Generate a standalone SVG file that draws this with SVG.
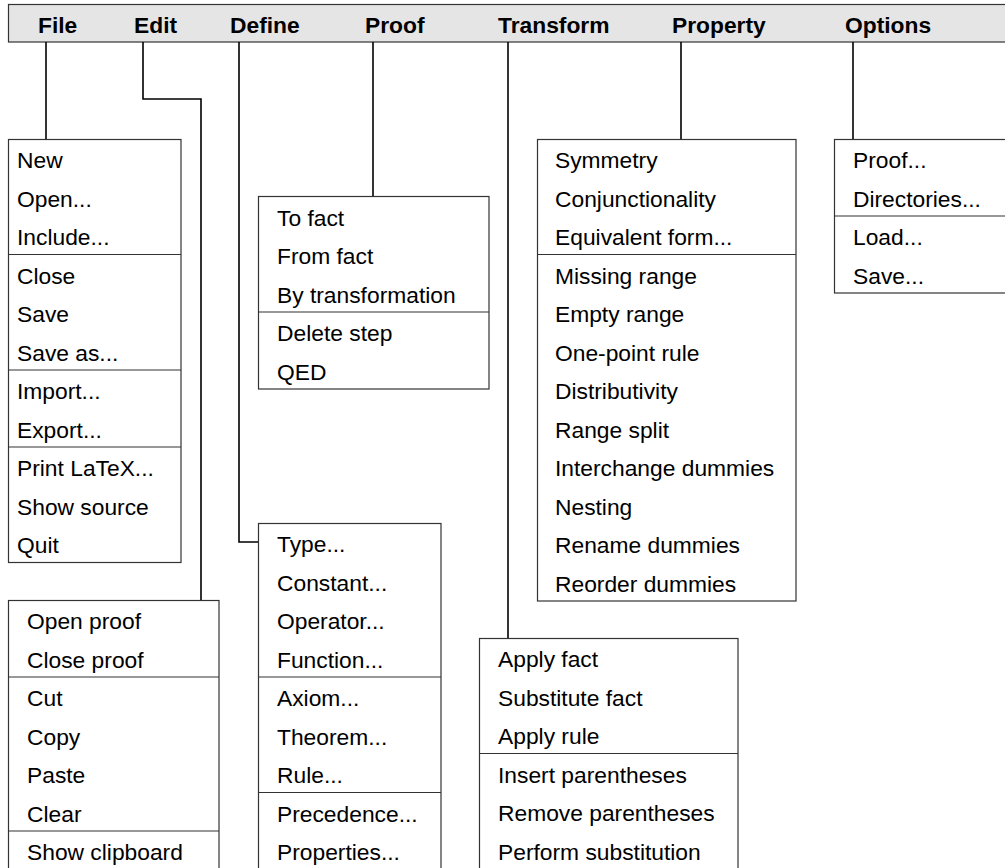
<svg xmlns="http://www.w3.org/2000/svg" width="1005" height="868" viewBox="0 0 1005 868">
<style>
.bg{fill:#ffffff}
.bar{fill:#e5e5e5;stroke:#333333;stroke-width:1.2}
.menu{font-family:"Liberation Sans",Arial,sans-serif;font-size:22.8px;font-weight:bold;fill:#000}
.box{fill:#ffffff;stroke:#333333;stroke-width:1.2}
.sep{stroke:#333333;stroke-width:1.2}
.item{font-family:"Liberation Sans",Arial,sans-serif;font-size:22.8px;fill:#000}
.conn{fill:none;stroke:#000000;stroke-width:1.6}
</style>
<rect class="bg" x="0" y="0" width="1005" height="868"/>
<g id="menubar">
<rect class="bar" x="8.5" y="4.5" width="1010" height="37.5"/>
<text class="menu" x="38" y="33">File</text>
<text class="menu" x="134" y="33">Edit</text>
<text class="menu" x="230" y="33">Define</text>
<text class="menu" x="365" y="33">Proof</text>
<text class="menu" x="498" y="33">Transform</text>
<text class="menu" x="672" y="33">Property</text>
<text class="menu" x="845" y="33">Options</text>
</g>
<g id="connectors">
<polyline class="conn" points="46,42 46,139"/>
<polyline class="conn" points="143,42 143,99 201,99 201,600"/>
<polyline class="conn" points="239,42 239,542 258,542"/>
<polyline class="conn" points="373,42 373,196.5"/>
<polyline class="conn" points="508,42 508,638"/>
<polyline class="conn" points="681,42 681,139"/>
<polyline class="conn" points="853,42 853,139"/>
</g>
<g id="file-menu">
<rect class="box" x="8.5" y="139.5" width="172.5" height="423"/>
<line class="sep" x1="8.5" y1="254.5" x2="181" y2="254.5"/>
<line class="sep" x1="8.5" y1="370" x2="181" y2="370"/>
<line class="sep" x1="8.5" y1="447" x2="181" y2="447"/>
<text class="item" x="17" y="168">New</text>
<text class="item" x="17" y="206.5">Open...</text>
<text class="item" x="17" y="245">Include...</text>
<text class="item" x="17" y="283.5">Close</text>
<text class="item" x="17" y="322">Save</text>
<text class="item" x="17" y="360.5">Save as...</text>
<text class="item" x="17" y="399">Import...</text>
<text class="item" x="17" y="437.5">Export...</text>
<text class="item" x="17" y="476">Print LaTeX...</text>
<text class="item" x="17" y="514.5">Show source</text>
<text class="item" x="17" y="553">Quit</text>
</g>
<g id="edit-menu">
<rect class="box" x="8.5" y="600.5" width="210.5" height="270"/>
<line class="sep" x1="8.5" y1="677" x2="219" y2="677"/>
<line class="sep" x1="8.5" y1="831" x2="219" y2="831"/>
<text class="item" x="27" y="629">Open proof</text>
<text class="item" x="27" y="667.5">Close proof</text>
<text class="item" x="27" y="706">Cut</text>
<text class="item" x="27" y="744.5">Copy</text>
<text class="item" x="27" y="783">Paste</text>
<text class="item" x="27" y="821.5">Clear</text>
<text class="item" x="27" y="860">Show clipboard</text>
</g>
<g id="define-menu">
<rect class="box" x="258.5" y="523.5" width="182.5" height="350"/>
<line class="sep" x1="258.5" y1="677" x2="441" y2="677"/>
<line class="sep" x1="258.5" y1="792.5" x2="441" y2="792.5"/>
<text class="item" x="277" y="552">Type...</text>
<text class="item" x="277" y="590.5">Constant...</text>
<text class="item" x="277" y="629">Operator...</text>
<text class="item" x="277" y="667.5">Function...</text>
<text class="item" x="277" y="706">Axiom...</text>
<text class="item" x="277" y="744.5">Theorem...</text>
<text class="item" x="277" y="783">Rule...</text>
<text class="item" x="277" y="821.5">Precedence...</text>
<text class="item" x="277" y="860">Properties...</text>
</g>
<g id="proof-menu">
<rect class="box" x="258.5" y="196.5" width="230.5" height="192.5"/>
<line class="sep" x1="258.5" y1="312" x2="489" y2="312"/>
<text class="item" x="277" y="225.5">To fact</text>
<text class="item" x="277" y="264">From fact</text>
<text class="item" x="277" y="302.5">By transformation</text>
<text class="item" x="277" y="341">Delete step</text>
<text class="item" x="277" y="379.5">QED</text>
</g>
<g id="transform-menu">
<rect class="box" x="479.5" y="638.5" width="258.5" height="240"/>
<line class="sep" x1="479.5" y1="753.5" x2="738" y2="753.5"/>
<text class="item" x="498" y="667">Apply fact</text>
<text class="item" x="498" y="705.5">Substitute fact</text>
<text class="item" x="498" y="744">Apply rule</text>
<text class="item" x="498" y="782.5">Insert parentheses</text>
<text class="item" x="498" y="821">Remove parentheses</text>
<text class="item" x="498" y="859.5">Perform substitution</text>
</g>
<g id="property-menu">
<rect class="box" x="537.5" y="139.5" width="258.5" height="461.5"/>
<line class="sep" x1="537.5" y1="254.5" x2="796" y2="254.5"/>
<text class="item" x="555" y="168">Symmetry</text>
<text class="item" x="555" y="206.5">Conjunctionality</text>
<text class="item" x="555" y="245">Equivalent form...</text>
<text class="item" x="555" y="283.5">Missing range</text>
<text class="item" x="555" y="322">Empty range</text>
<text class="item" x="555" y="360.5">One-point rule</text>
<text class="item" x="555" y="399">Distributivity</text>
<text class="item" x="555" y="437.5">Range split</text>
<text class="item" x="555" y="476">Interchange dummies</text>
<text class="item" x="555" y="514.5">Nesting</text>
<text class="item" x="555" y="553">Rename dummies</text>
<text class="item" x="555" y="591.5">Reorder dummies</text>
</g>
<g id="options-menu">
<rect class="box" x="834.5" y="139.5" width="180" height="153.5"/>
<line class="sep" x1="834.5" y1="216" x2="1005" y2="216"/>
<text class="item" x="853" y="168">Proof...</text>
<text class="item" x="853" y="206.5">Directories...</text>
<text class="item" x="853" y="245">Load...</text>
<text class="item" x="853" y="283.5">Save...</text>
</g>
</svg>
